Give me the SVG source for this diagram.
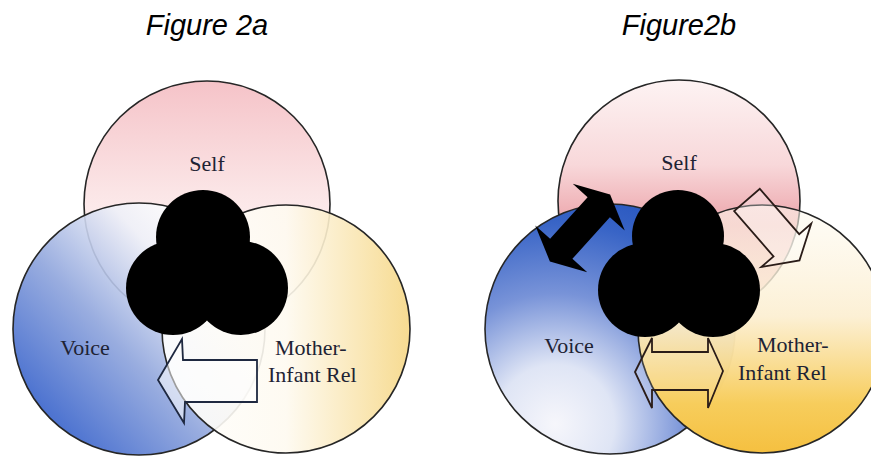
<svg xmlns="http://www.w3.org/2000/svg" width="871" height="458" viewBox="0 0 871 458">
  <defs>
    <linearGradient id="gSelfA" x1="0" y1="0" x2="0" y2="1">
      <stop offset="0" stop-color="#f5c3c8"/>
      <stop offset="0.45" stop-color="#fbe5e6"/>
      <stop offset="0.75" stop-color="#fff7f7"/>
      <stop offset="1" stop-color="#ffffff"/>
    </linearGradient>
    <linearGradient id="gVoiceA" x1="0.1" y1="0.9" x2="0.85" y2="0.2">
      <stop offset="0" stop-color="#2a58c8"/>
      <stop offset="0.45" stop-color="#8ea4dc"/>
      <stop offset="0.8" stop-color="#eef0f8"/>
      <stop offset="1" stop-color="#ffffff"/>
    </linearGradient>
    <linearGradient id="gMotherA" x1="0" y1="0" x2="1" y2="0">
      <stop offset="0" stop-color="#ffffff"/>
      <stop offset="0.5" stop-color="#fefaf0"/>
      <stop offset="1" stop-color="#f6d785"/>
    </linearGradient>
    <linearGradient id="gSelfB" x1="0" y1="0" x2="0" y2="1">
      <stop offset="0" stop-color="#fdf3f3"/>
      <stop offset="0.35" stop-color="#f8d8da"/>
      <stop offset="0.6" stop-color="#eca4aa"/>
      <stop offset="1" stop-color="#f0b8b8"/>
    </linearGradient>
    <radialGradient id="gVoiceB" cx="0.28" cy="0.88" r="0.95">
      <stop offset="0" stop-color="#f6f6fb"/>
      <stop offset="0.25" stop-color="#dfe5f5"/>
      <stop offset="0.55" stop-color="#7893d8"/>
      <stop offset="0.85" stop-color="#3864c6"/>
      <stop offset="1" stop-color="#2a58c0"/>
    </radialGradient>
    <linearGradient id="gMotherB" x1="0" y1="0" x2="0" y2="1">
      <stop offset="0" stop-color="#fefaf0" stop-opacity="0.55"/>
      <stop offset="0.45" stop-color="#fcefd2" stop-opacity="0.95"/>
      <stop offset="0.8" stop-color="#f7cd5c"/>
      <stop offset="1" stop-color="#f5c040"/>
    </linearGradient>
    <style>
      .title { font-family: "Liberation Sans", Arial, sans-serif; font-style: italic; font-size: 29px; fill: #000; text-anchor: middle; }
      .lbl { font-family: "Liberation Serif", "Times New Roman", serif; font-size: 22px; fill: #1e2334; }
      .circ { stroke: #262626; stroke-width: 1.6; }
      .core { fill: #000; }
      .hollow { stroke: #1e2840; stroke-width: 1.8; stroke-linejoin: miter; }
    </style>
  </defs>

  <rect width="871" height="458" fill="#ffffff"/>

  <g id="title-2a"><text class="title" x="207" y="35">Figure 2a</text></g>
  <g id="title-2b"><text class="title" x="679" y="35">Figure2b</text></g>

  <!-- Figure 2a -->
  <g id="a-self">
    <circle class="circ" cx="207" cy="204" r="123" fill="url(#gSelfA)"/>
    <text class="lbl" x="207" y="171" text-anchor="middle">Self</text>
  </g>
  <g id="a-voice">
    <circle class="circ" cx="139" cy="329" r="126" fill="url(#gVoiceA)" fill-opacity="0.9"/>
    <text class="lbl" x="85" y="355" text-anchor="middle">Voice</text>
  </g>
  <g id="a-mother">
    <circle class="circ" cx="286" cy="329" r="124" fill="url(#gMotherA)" fill-opacity="0.9"/>
    <text class="lbl" x="275" y="355">Mother-</text>
    <text class="lbl" x="268" y="382">Infant Rel</text>
  </g>
  <g id="a-core">
    <circle class="core" cx="203" cy="237" r="47"/>
    <circle class="core" cx="173" cy="288" r="47"/>
    <circle class="core" cx="241" cy="288" r="47"/>
  </g>

  <!-- Figure 2b -->
  <g id="b-self">
    <circle class="circ" cx="679" cy="201" r="121" fill="url(#gSelfB)"/>
    <text class="lbl" x="679" y="170" text-anchor="middle">Self</text>
  </g>
  <g id="b-voice">
    <circle class="circ" cx="610" cy="329" r="125" fill="url(#gVoiceB)"/>
    <text class="lbl" x="569" y="353" text-anchor="middle">Voice</text>
  </g>
  <g id="b-mother">
    <circle class="circ" cx="762" cy="329" r="124" fill="url(#gMotherB)"/>
    <text class="lbl" x="757" y="352">Mother-</text>
    <text class="lbl" x="738" y="380">Infant Rel</text>
  </g>
  <g id="b-core">
    <circle class="core" cx="678" cy="236" r="46"/>
    <circle class="core" cx="645" cy="290" r="47"/>
    <circle class="core" cx="713" cy="290" r="47"/>
  </g>

  <g id="connectors">
    <!-- 2a: Mother-Infant Rel to Voice -->
    <polygon class="hollow" fill="#ffffff" fill-opacity="0.55"
      points="158,380 182,339 183,360 257,360 257,402 185,402 184,423"/>
    <!-- 2b: Voice <-> Self (black) -->
    <polygon fill="#000" transform="translate(580,228) rotate(-48)"
      points="45,0 28,-35 28,-15 -28,-15 -28,-35 -45,0 -28,35 -28,15 28,15 28,35"/>
    <!-- 2b: Self to Mother-Infant Rel -->
    <polygon fill="#ffffff" fill-opacity="0.3" stroke="#2a1c18" stroke-width="1.8" transform="translate(747,200) rotate(49)"
      points="0,-17 60,-17 60,-33 80,0 60,33 60,17 0,17"/>
    <!-- 2b: Voice <-> Mother-Infant Rel -->
    <polygon fill="#ffffff" fill-opacity="0.12" stroke="#2a1c18" stroke-width="1.8"
      points="635,372 652,338 652,352 708,352 708,338 723,371 708,408 708,390 652,390 652,408"/>
  </g>
</svg>
